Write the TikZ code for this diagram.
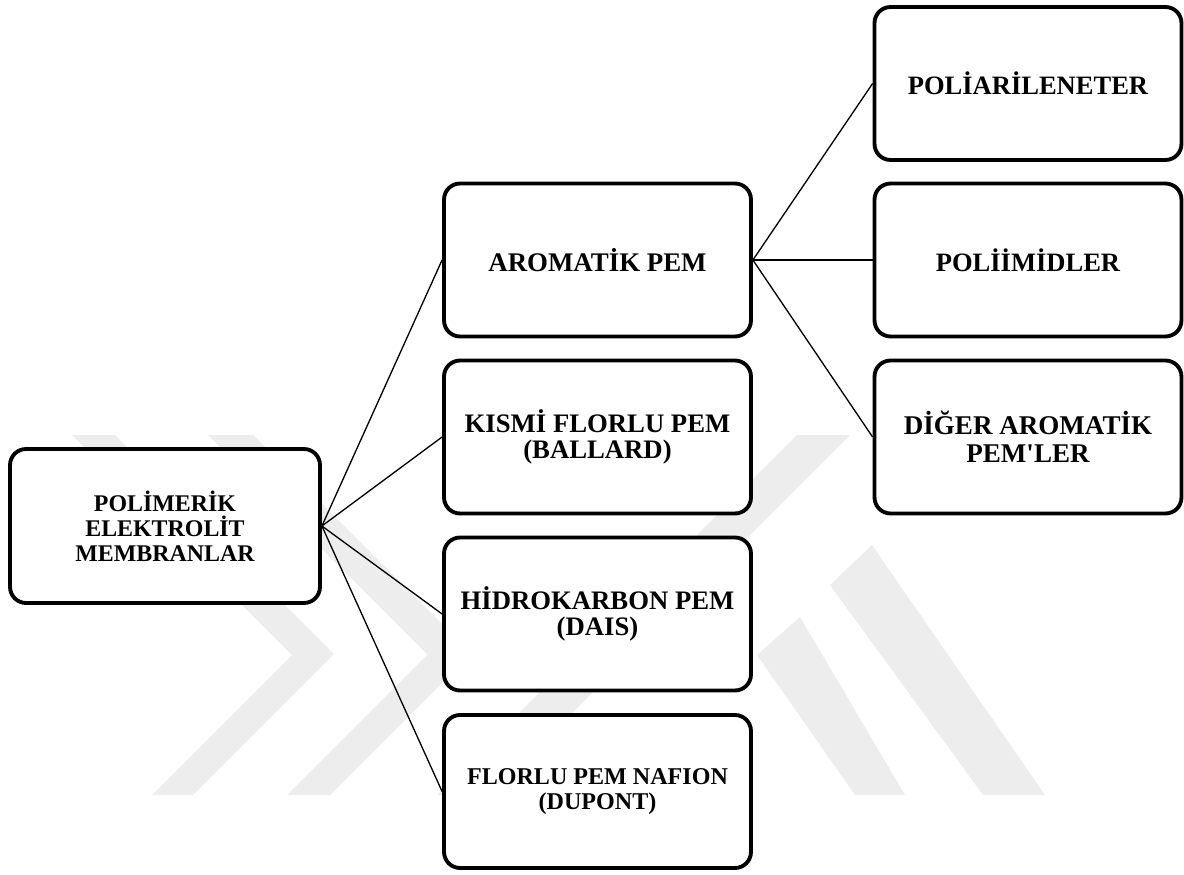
\documentclass[tikz,border=0pt]{standalone}
\usepackage{fontspec}
\setmainfont{Liberation Serif}
\begin{document}
\begin{tikzpicture}[x=0.02cm,y=-0.02cm,
  box/.style={draw=black, line width=2.2pt, rounded corners=0.32cm, fill=white,
    minimum width=6.14cm, minimum height=3.06cm, align=center, inner sep=0pt},
  conn/.style={draw=black, line width=0.75pt},
  wm/.style={fill=black!7, draw=none}]
\useasboundingbox (0,0) rectangle (1184,875);
% watermark
\fill[wm] (72,435) -- (115,435) -- (334,654) -- (193,795) -- (152,795) -- (292,655) -- cycle;
\fill[wm] (208,435) -- (253,435) -- (471.5,653.5) -- (330,795) -- (287,795) -- (427.5,654.5) -- cycle;
\fill[wm] (797,435) -- (850,435) -- (490,795) -- (437,795) -- cycle;
\fill[wm] (830,585) -- (872,545) -- (1045,795) -- (983,795) -- cycle;
\fill[wm] (757,655) -- (800,617) -- (905,795) -- (855,795) -- cycle;
% nodes
\node[box, minimum width=6.2cm, minimum height=3.08cm,
  font={\fontsize{13.6}{14.3}\selectfont\bfseries}] (root) at (165,526) {POLİMERİK\\ELEKTROLİT\\MEMBRANLAR};
\node[box, font={\fontsize{15.3}{16}\selectfont\bfseries}] (arom) at (597.5,260) {AROMATİK PEM};
\node[box, font={\fontsize{15.2}{15.2}\selectfont\bfseries}] (kismi) at (597.5,437) {KISMİ FLORLU PEM\\(BALLARD)};
\node[box, font={\fontsize{15.2}{15.2}\selectfont\bfseries}] (hidro) at (597.5,614) {HİDROKARBON PEM\\(DAIS)};
\node[box, font={\fontsize{13.7}{14.3}\selectfont\bfseries}] (florlu) at (597.5,791.5) {FLORLU PEM NAFION\\(DUPONT)};
\node[box, font={\fontsize{15.1}{16}\selectfont\bfseries}] (polia) at (1028,83.5) {POLİARİLENETER};
\node[box, font={\fontsize{15.1}{16}\selectfont\bfseries}] (polii) at (1028,260) {POLİİMİDLER};
\node[box, font={\fontsize{15.4}{15.9}\selectfont\bfseries}] (diger) at (1028,437) {DİĞER AROMATİK\\PEM\textquotesingle LER};
% connectors
\draw[conn] (root.east) -- (arom.west);
\draw[conn] (root.east) -- (kismi.west);
\draw[conn] (root.east) -- (hidro.west);
\draw[conn] (root.east) -- (florlu.west);
\draw[conn] (arom.east) -- (polia.west);
\draw[conn] (arom.east) -- (polii.west);
\draw[conn] (arom.east) -- (diger.west);
\end{tikzpicture}
\end{document}
